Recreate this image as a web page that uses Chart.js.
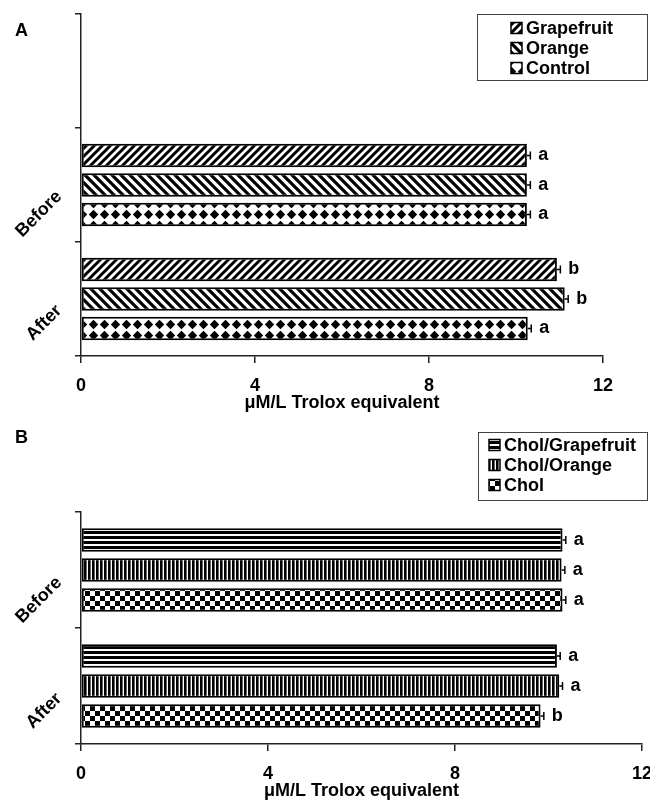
<!DOCTYPE html>
<html>
<head>
<meta charset="utf-8">
<script src="https://cdn.jsdelivr.net/npm/chart.js@4/dist/chart.umd.min.js"></script>
<style>
  body { margin: 0; background: #fff; }
  canvas { display: block; }
</style>
</head>
<body>
<canvas id="chartA" width="650" height="416"></canvas>
<canvas id="chartB" width="650" height="386"></canvas>
<script>
// panel A (top category is left empty, the legend sits there)
const groupsA = ['', 'Before', 'After'];
const seriesA = ['Grapefruit', 'Orange', 'Control'];
const grapefruitA = [null, 10.25, 10.94];
const orangeA = [null, 10.25, 11.12];
const controlA = [null, 10.25, 10.27];
const grapefruitErrA = [null, 0.08, 0.08];
const orangeErrA = [null, 0.08, 0.08];
const controlErrA = [null, 0.08, 0.08];
const grapefruitLetA = ['', 'a', 'b'];
const orangeLetA = ['', 'a', 'b'];
const controlLetA = ['', 'a', 'a'];

// panel B
const groupsB = ['Before', 'After'];
const seriesB = ['Chol/Grapefruit', 'Chol/Orange', 'Chol'];
const cholGrapefruitB = [10.30, 10.18];
const cholOrangeB = [10.28, 10.23];
const cholB = [10.30, 9.83];
const cholGrapefruitErrB = [0.07, 0.07];
const cholOrangeErrB = [0.07, 0.07];
const cholErrB = [0.07, 0.07];
const cholGrapefruitLetB = ['a', 'a'];
const cholOrangeLetB = ['a', 'a'];
const cholLetB = ['a', 'b'];

const xTitle = 'μM/L Trolox equivalent';

const FONT = '"Liberation Sans", Arial, sans-serif';
Chart.defaults.font.family = FONT;
Chart.defaults.color = '#000';

// --- fill patterns ---
function makePattern(w, h, draw) {
  const c = document.createElement('canvas');
  c.width = w; c.height = h;
  const g = c.getContext('2d');
  g.fillStyle = '#fff';
  g.fillRect(0, 0, w, h);
  g.fillStyle = '#000';
  g.strokeStyle = '#000';
  draw(g, w, h);
  return document.createElement('canvas').getContext('2d').createPattern(c, 'repeat');
}

const diagUp = makePattern(8, 8, (g) => {
  g.lineWidth = 3;
  g.beginPath();
  g.moveTo(-2, 2); g.lineTo(2, -2);
  g.moveTo(0, 8); g.lineTo(8, 0);
  g.moveTo(6, 10); g.lineTo(10, 6);
  g.stroke();
});
const diagDown = makePattern(9, 9, (g) => {
  g.lineWidth = 3.2;
  g.beginPath();
  g.moveTo(-2, 7); g.lineTo(2, 11);
  g.moveTo(0, 0); g.lineTo(9, 9);
  g.moveTo(7, -2); g.lineTo(11, 2);
  g.stroke();
});
const diamonds = makePattern(11, 11, (g) => {
  g.beginPath();
  g.moveTo(5.5, 0.8); g.lineTo(10.2, 5.5); g.lineTo(5.5, 10.2); g.lineTo(0.8, 5.5);
  g.closePath();
  g.fill();
});
const hStripes = makePattern(5, 5, (g) => { g.fillRect(0, 0, 5, 3); });
const vStripes = makePattern(4, 4, (g) => { g.fillRect(0, 0, 2.6, 4); });
const checker = makePattern(10, 10, (g) => { g.fillRect(0, 0, 5, 5); g.fillRect(5, 5, 5, 5); });

// --- error bars + significance letters ---
const errorBars = {
  id: 'errorBars',
  afterDatasetsDraw(chart) {
    const ctx = chart.ctx;
    const xs = chart.scales.x;
    ctx.save();
    chart.data.datasets.forEach((ds, i) => {
      chart.getDatasetMeta(i).data.forEach((bar, j) => {
        if (ds.data[j] == null) return;
        const xe = xs.getPixelForValue(ds.data[j] + ds.err[j]);
        ctx.strokeStyle = '#000';
        ctx.lineWidth = 1.5;
        ctx.beginPath();
        ctx.moveTo(bar.x, bar.y); ctx.lineTo(xe, bar.y);
        ctx.moveTo(xe, bar.y - 4); ctx.lineTo(xe, bar.y + 4);
        ctx.stroke();
        ctx.fillStyle = '#000';
        ctx.font = 'bold 18px ' + FONT;
        ctx.textAlign = 'left';
        ctx.textBaseline = 'middle';
        ctx.fillText(ds.letters[j], xe + 8, bar.y);
      });
    });
    ctx.restore();
  }
};

// --- boxed legend + panel letter ---
const boxLegend = {
  id: 'boxLegend',
  afterDraw(chart, args, o) {
    const ctx = chart.ctx;
    ctx.save();
    ctx.font = 'bold 18px ' + FONT;
    ctx.fillStyle = '#000';
    ctx.textBaseline = 'middle';
    ctx.textAlign = 'left';
    ctx.fillText(o.panel, 15, o.panelY);

    ctx.strokeStyle = '#444';
    ctx.lineWidth = 1;
    ctx.strokeRect(o.left + 0.5, o.top + 0.5, o.width, o.height);

    const dss = chart.data.datasets;
    const sw = 11, gap = 4;
    const maxW = Math.max(...dss.map(d => ctx.measureText(d.label).width));
    const x0 = Math.round(o.left + (o.width - (sw + gap + maxW)) / 2);
    dss.forEach((ds, i) => {
      const cy = o.top + o.rowTop + i * o.rowH;
      ctx.fillStyle = ds.backgroundColor;
      ctx.fillRect(x0, cy - sw / 2, sw, sw);
      ctx.strokeStyle = '#000';
      ctx.lineWidth = 1.5;
      ctx.strokeRect(x0, cy - sw / 2, sw, sw);
      ctx.fillStyle = '#000';
      ctx.fillText(ds.label, x0 + sw + gap, cy + 1);
    });
    ctx.restore();
  }
};

function barSet(label, data, err, letters, fill) {
  return {
    label: label,
    data: data,
    err: err,
    letters: letters,
    backgroundColor: fill,
    borderColor: '#000',
    borderWidth: 2,
    borderSkipped: false,
    barPercentage: 0.79,
    categoryPercentage: 0.776
  };
}

function scalesFor(labelOffset) {
  return {
    x: {
      min: 0,
      max: 12,
      ticks: { stepSize: 4, padding: 14, font: { size: 18, weight: 'bold', lineHeight: 1 } },
      grid: { drawOnChartArea: false, tickLength: 7, color: '#222', lineWidth: 1.5 },
      border: { color: '#222', width: 1.5 },
      title: { display: true, text: xTitle, font: { size: 18, weight: 'bold', lineHeight: 1 }, padding: { top: 0, bottom: 0 } },
      afterFit(scale) { scale.paddingLeft = 0; scale.paddingRight = 0; scale.height = 56; }
    },
    y: {
      ticks: { minRotation: 45, maxRotation: 45, padding: 16, labelOffset: labelOffset, font: { size: 18, weight: 'bold' } },
      grid: { drawOnChartArea: false, tickLength: 6, color: '#222', lineWidth: 1.5 },
      border: { color: '#222', width: 1.5 },
      afterFit(scale) { scale.width = 81; scale.paddingTop = 0; scale.paddingBottom = 0; }
    }
  };
}

new Chart(document.getElementById('chartA'), {
  type: 'bar',
  data: {
    labels: groupsA,
    datasets: [
      barSet(seriesA[0], grapefruitA, grapefruitErrA, grapefruitLetA, diagUp),
      barSet(seriesA[1], orangeA, orangeErrA, orangeLetA, diagDown),
      barSet(seriesA[2], controlA, controlErrA, controlLetA, diamonds)
    ]
  },
  options: {
    indexAxis: 'y',
    responsive: false,
    animation: false,
    events: [],
    layout: { padding: { top: 14, right: 47, bottom: 4, left: 0 } },
    scales: scalesFor(9),
    plugins: {
      legend: { display: false },
      tooltip: { enabled: false },
      boxLegend: { panel: 'A', panelY: 31, left: 477, top: 14, width: 170, height: 66, rowTop: 14, rowH: 20 }
    }
  },
  plugins: [errorBars, boxLegend]
});

new Chart(document.getElementById('chartB'), {
  type: 'bar',
  data: {
    labels: groupsB,
    datasets: [
      barSet(seriesB[0], cholGrapefruitB, cholGrapefruitErrB, cholGrapefruitLetB, hStripes),
      barSet(seriesB[1], cholOrangeB, cholOrangeErrB, cholOrangeLetB, vStripes),
      barSet(seriesB[2], cholB, cholErrB, cholLetB, checker)
    ]
  },
  options: {
    indexAxis: 'y',
    responsive: false,
    animation: false,
    events: [],
    layout: { padding: { top: 96, right: 8, bottom: 2, left: 0 } },
    scales: scalesFor(10),
    plugins: {
      legend: { display: false },
      tooltip: { enabled: false },
      boxLegend: { panel: 'B', panelY: 22, left: 478, top: 16, width: 169, height: 68, rowTop: 13, rowH: 20 }
    }
  },
  plugins: [errorBars, boxLegend]
});
</script>
</body>
</html>
